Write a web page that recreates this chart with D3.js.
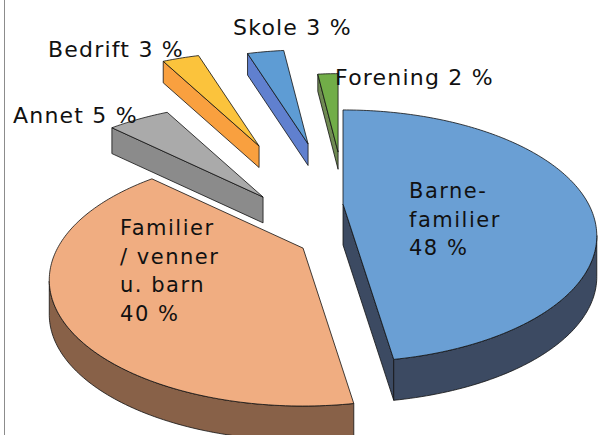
<!DOCTYPE html>
<html>
<head>
<meta charset="utf-8">
<script src="https://cdn.jsdelivr.net/npm/d3@7"></script>
<style>
  body { margin: 0; background: #fff; }
  svg { display: block; }
  text { font-family: "DejaVu Sans", sans-serif; fill: #111; }
</style>
</head>
<body>
<svg id="chart" width="601" height="435"></svg>
<script>
// data, clockwise from 12 o'clock
const categories = ["Barne-familier", "Familier / venner u. barn", "Annet", "Bedrift", "Skole", "Forening"];
const labelLines = [["Barne-", "familier"], ["Familier", "/ venner", "u. barn"], ["Annet"], ["Bedrift"], ["Skole"], ["Forening"]];
const values = [48, 40, 5, 3, 3, 2];

// camera for the tilted pie (radius = 1)
const cam = { cx: 343, cy: 204, f: 245.5, k: 0.289, tilt: 28.7 };
const t = cam.tilt * Math.PI / 180, sinT = Math.sin(t), cosT = Math.cos(t);

// look of each slice: colours, explosion [dist, direction deg], thickness, radius, label offset
const styles = [
  { top: "#6a9fd4", side: "#3c4a62", explode: [0, 0],         h: 0.19, inside: true, label: [66, -6] },
  { top: "#f0ad81", side: "#886148", explode: [0.408, 203.5], h: 0.16, inside: true, label: [-183, -13] },
  { top: "#aaaaaa", side: "#8b8b8b", explode: [0.331, 280.3], h: 0.12, label: [-250, -74] },
  { top: "#fbc33c", side: "#f9a03f", explode: [0.599, 325.2], h: 0.10, label: [-211, -89] },
  { top: "#5e9cd4", side: "#6080cf", explode: [0.529, 344.4], h: 0.10, label: [-75, -109] },
  { top: "#71ad48", side: "#6f8a52", explode: [0.441, 357.4], h: 0.08, r: 0.8, label: [-3, -67] }
];

function project(x, z) {
  const d = 1 + cam.k * z * cosT;
  return [cam.f * x / d, -cam.f * sinT * z / d];
}

const svg = d3.select("#chart");
const line = d3.line();

// left frame line
svg.append("line")
  .attr("x1", 4.5).attr("x2", 4.5).attr("y1", 0).attr("y2", 435)
  .attr("stroke", "#8c8c8c").attr("stroke-width", 1);

const arcs = d3.pie().sort(null).value(d => d)(values);

const slices = arcs.map((p, i) => {
  const st = styles[i];
  const ea = st.explode[1] * Math.PI / 180;
  const ex = st.explode[0] * Math.sin(ea), ez = st.explode[0] * Math.cos(ea);
  const ox = cam.cx + cam.f * ex, oy = cam.cy - cam.f * sinT * ez;
  const r = st.r || 1;
  const n = Math.max(4, Math.ceil((p.endAngle - p.startAngle) / (Math.PI / 180)));
  const rim = d3.range(n + 1).map(j => {
    const a = p.startAngle + (p.endAngle - p.startAngle) * j / n;
    const [u, v] = project(r * Math.sin(a), r * Math.cos(a));
    return [ox + u, oy + v];
  });
  return { i, st, apex: [ox, oy], rim, hpx: cam.f * cosT * st.h };
});

function face(g, pts, fill) {
  g.append("path")
    .attr("d", line(pts) + "Z")
    .attr("fill", fill)
    .attr("stroke", "#111")
    .attr("stroke-width", 0.8)
    .attr("stroke-linejoin", "round");
}
const down = (pt, h) => [pt[0], pt[1] + h];

// far slices first
slices.slice().sort((a, b) => a.apex[1] - b.apex[1]).forEach(s => {
  const g = svg.append("g");
  const { apex, rim, hpx, st } = s;
  const last = rim[rim.length - 1];

  // a side is seen when its top edge runs leftwards along the outline
  if (rim[0][0] < apex[0] - 0.5)
    face(g, [apex, rim[0], down(rim[0], hpx), down(apex, hpx)], st.side);
  if (apex[0] < last[0] - 0.5)
    face(g, [last, apex, down(apex, hpx), down(last, hpx)], st.side);

  let run = [];
  const flush = () => {
    if (run.length > 1) face(g, run.concat(run.slice().reverse().map(q => down(q, hpx))), st.side);
    run = [];
  };
  for (let j = 0; j < rim.length - 1; j++) {
    if (rim[j + 1][0] < rim[j][0]) {
      if (!run.length) run.push(rim[j]);
      run.push(rim[j + 1]);
    } else flush();
  }
  flush();

  face(g, [apex].concat(rim), st.top);
});

// labels
slices.forEach(s => {
  const st = s.st, v = values[s.i];
  const x = s.apex[0] + st.label[0], y = s.apex[1] + st.label[1];
  if (st.inside) {
    const lines = labelLines[s.i].concat([v + " %"]);
    const txt = svg.append("text")
      .attr("x", x).attr("y", y)
      .attr("font-size", 21).attr("letter-spacing", 1.5);
    lines.forEach((l, k) => txt.append("tspan").attr("x", x).attr("y", y + k * 28.5).text(l));
  } else {
    svg.append("text")
      .attr("x", x).attr("y", y)
      .attr("font-size", 22).attr("letter-spacing", 1.2)
      .text(labelLines[s.i].join(" ") + " " + v + " %");
  }
});
</script>
</body>
</html>
